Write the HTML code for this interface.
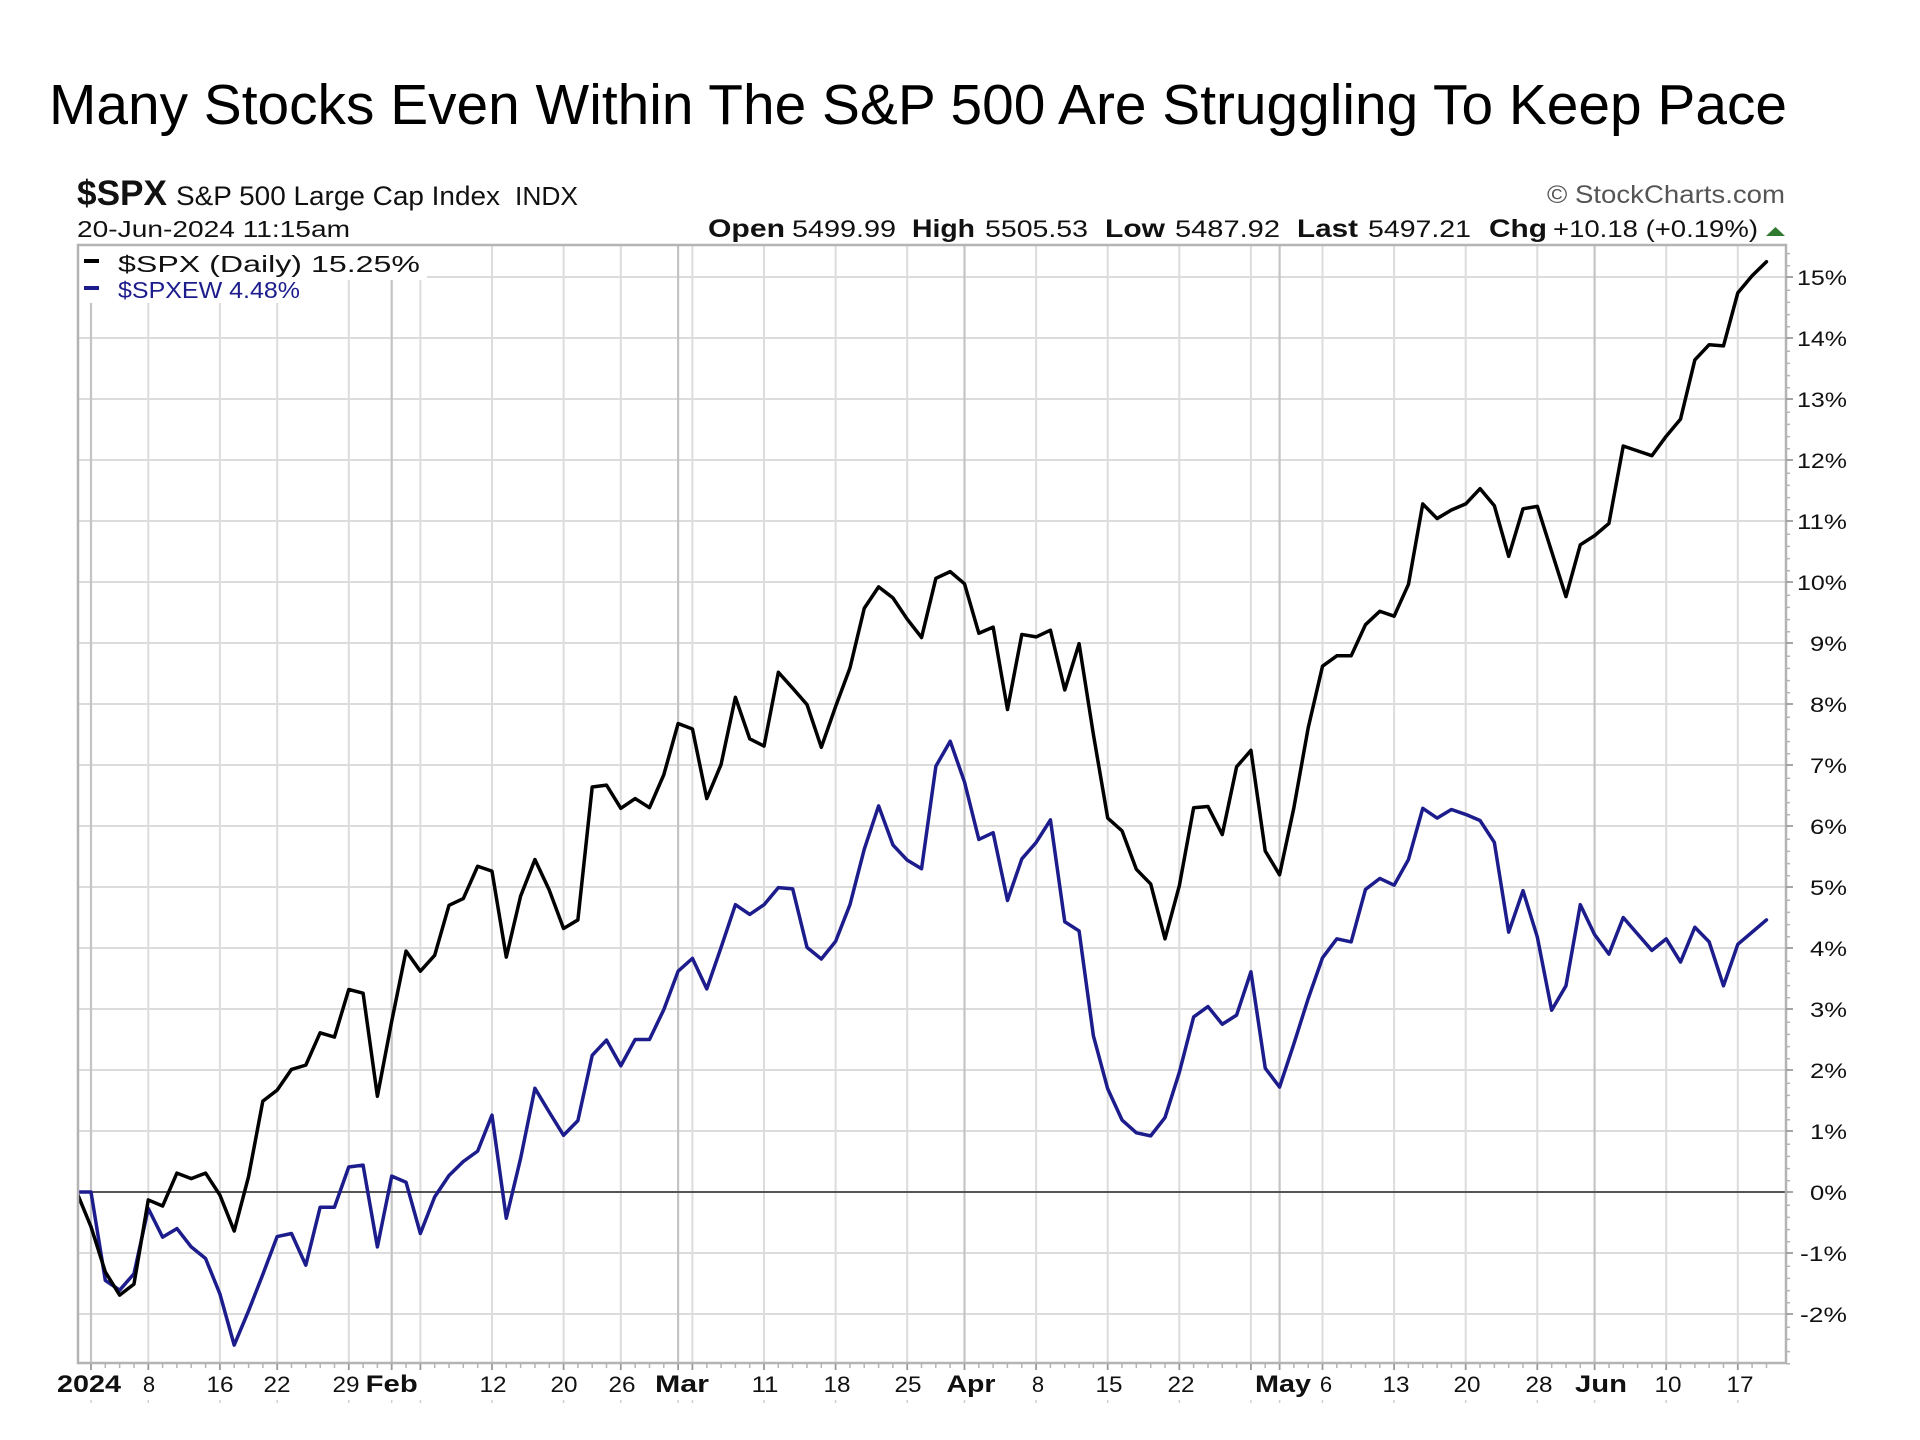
<!DOCTYPE html>
<html>
<head>
<meta charset="utf-8">
<style>
  html, body { margin:0; padding:0; background:#fff; }
  body { width:1920px; height:1440px; overflow:hidden; }
  svg { display:block; }
  text { font-family: "Liberation Sans", Arial, sans-serif; }
</style>
</head>
<body>
<svg width="1920" height="1440" viewBox="0 0 1920 1440" xmlns="http://www.w3.org/2000/svg">
  <rect x="0" y="0" width="1920" height="1440" fill="#fff"/>

  <!-- Title -->
  <text x="49" y="124" font-size="57" fill="#000" textLength="1738" lengthAdjust="spacingAndGlyphs">Many Stocks Even Within The S&amp;P 500 Are Struggling To Keep Pace</text>

  <!-- Header -->
  <text x="77" y="205" font-size="35" font-weight="bold" fill="#111" textLength="90" lengthAdjust="spacingAndGlyphs">$SPX</text>
  <text x="176" y="205" font-size="27" fill="#111" textLength="324" lengthAdjust="spacingAndGlyphs">S&amp;P 500 Large Cap Index</text>
  <text x="515" y="205" font-size="26" fill="#111" textLength="63" lengthAdjust="spacingAndGlyphs">INDX</text>
  <text x="1785" y="203" font-size="25" fill="#555" text-anchor="end" textLength="238" lengthAdjust="spacingAndGlyphs">© StockCharts.com</text>
  <text x="77" y="237" font-size="23" fill="#111" textLength="273" lengthAdjust="spacingAndGlyphs">20-Jun-2024 11:15am</text>

  <g fill="#111">
    <text x="708" y="237" font-size="25" font-weight="bold" textLength="77" lengthAdjust="spacingAndGlyphs">Open</text>
    <text x="792" y="237" font-size="24" textLength="104" lengthAdjust="spacingAndGlyphs">5499.99</text>
    <text x="912" y="237" font-size="25" font-weight="bold" textLength="63" lengthAdjust="spacingAndGlyphs">High</text>
    <text x="985" y="237" font-size="24" textLength="103" lengthAdjust="spacingAndGlyphs">5505.53</text>
    <text x="1105" y="237" font-size="25" font-weight="bold" textLength="60" lengthAdjust="spacingAndGlyphs">Low</text>
    <text x="1175" y="237" font-size="24" textLength="105" lengthAdjust="spacingAndGlyphs">5487.92</text>
    <text x="1297" y="237" font-size="25" font-weight="bold" textLength="61" lengthAdjust="spacingAndGlyphs">Last</text>
    <text x="1368" y="237" font-size="24" textLength="103" lengthAdjust="spacingAndGlyphs">5497.21</text>
    <text x="1489" y="237" font-size="25" font-weight="bold" textLength="58" lengthAdjust="spacingAndGlyphs">Chg</text>
    <text x="1553" y="237" font-size="24" textLength="205" lengthAdjust="spacingAndGlyphs">+10.18 (+0.19%)</text>
  </g>
  <polygon points="1766,236 1785,236 1775.5,227" fill="#2f7a2f"/>

  <defs>
    <clipPath id="plot">
      <rect x="79" y="246" width="1706" height="1116"/>
    </clipPath>
  </defs>

  <!-- Horizontal gridlines -->
  <g stroke="#dcdcdc" stroke-width="2">
    <line x1="78" x2="1786" y1="1314" y2="1314"/>
    <line x1="78" x2="1786" y1="1253" y2="1253"/>
    <line x1="78" x2="1786" y1="1131" y2="1131"/>
    <line x1="78" x2="1786" y1="1070" y2="1070"/>
    <line x1="78" x2="1786" y1="1009" y2="1009"/>
    <line x1="78" x2="1786" y1="948" y2="948"/>
    <line x1="78" x2="1786" y1="887" y2="887"/>
    <line x1="78" x2="1786" y1="826" y2="826"/>
    <line x1="78" x2="1786" y1="765" y2="765"/>
    <line x1="78" x2="1786" y1="704" y2="704"/>
    <line x1="78" x2="1786" y1="643" y2="643"/>
    <line x1="78" x2="1786" y1="582" y2="582"/>
    <line x1="78" x2="1786" y1="521" y2="521"/>
    <line x1="78" x2="1786" y1="460" y2="460"/>
    <line x1="78" x2="1786" y1="399" y2="399"/>
    <line x1="78" x2="1786" y1="338" y2="338"/>
    <line x1="78" x2="1786" y1="277" y2="277"/>
  </g>

  <!-- Vertical weekly gridlines -->
  <g stroke="#dcdcdc" stroke-width="2">
    <line x1="148.3" x2="148.3" y1="245" y2="1363"/>
    <line x1="219.9" x2="219.9" y1="245" y2="1363"/>
    <line x1="277.2" x2="277.2" y1="245" y2="1363"/>
    <line x1="348.8" x2="348.8" y1="245" y2="1363"/>
    <line x1="420.4" x2="420.4" y1="245" y2="1363"/>
    <line x1="492" x2="492" y1="245" y2="1363"/>
    <line x1="563.6" x2="563.6" y1="245" y2="1363"/>
    <line x1="620.8" x2="620.8" y1="245" y2="1363"/>
    <line x1="692.4" x2="692.4" y1="245" y2="1363"/>
    <line x1="764" x2="764" y1="245" y2="1363"/>
    <line x1="835.6" x2="835.6" y1="245" y2="1363"/>
    <line x1="907.2" x2="907.2" y1="245" y2="1363"/>
    <line x1="1036.1" x2="1036.1" y1="245" y2="1363"/>
    <line x1="1107.7" x2="1107.7" y1="245" y2="1363"/>
    <line x1="1179.3" x2="1179.3" y1="245" y2="1363"/>
    <line x1="1250.9" x2="1250.9" y1="245" y2="1363"/>
    <line x1="1322.5" x2="1322.5" y1="245" y2="1363"/>
    <line x1="1394.1" x2="1394.1" y1="245" y2="1363"/>
    <line x1="1465.7" x2="1465.7" y1="245" y2="1363"/>
    <line x1="1537.3" x2="1537.3" y1="245" y2="1363"/>
    <line x1="1666.2" x2="1666.2" y1="245" y2="1363"/>
    <line x1="1737.8" x2="1737.8" y1="245" y2="1363"/>
  </g>
  <!-- Month gridlines (darker) -->
  <g stroke="#c4c4c4" stroke-width="2.2">
    <line x1="91" x2="91" y1="245" y2="1363"/>
    <line x1="391.7" x2="391.7" y1="245" y2="1363"/>
    <line x1="678.1" x2="678.1" y1="245" y2="1363"/>
    <line x1="964.5" x2="964.5" y1="245" y2="1363"/>
    <line x1="1279.6" x2="1279.6" y1="245" y2="1363"/>
    <line x1="1594.6" x2="1594.6" y1="245" y2="1363"/>
  </g>

  <!-- Zero line -->
  <line x1="78" x2="1786" y1="1192" y2="1192" stroke="#555" stroke-width="2"/>

  <!-- Legend backgrounds -->
  <rect x="79" y="246" width="348" height="34" fill="#fff"/>
  <rect x="79" y="279" width="226" height="24" fill="#fff"/>

  <!-- Legend -->
  <line x1="84" x2="99" y1="261" y2="261" stroke="#000" stroke-width="4"/>
  <text x="118" y="272" font-size="23" fill="#111" textLength="302" lengthAdjust="spacingAndGlyphs">$SPX (Daily) 15.25%</text>
  <line x1="84" x2="99" y1="288" y2="288" stroke="#1c1c8c" stroke-width="4"/>
  <text x="118" y="298" font-size="23" fill="#1c1c8c" textLength="182" lengthAdjust="spacingAndGlyphs">$SPXEW 4.48%</text>

  <!-- Data series -->
  <g clip-path="url(#plot)">
    <g transform="translate(91,1192) scale(14.32,-61)">
      <polyline fill="none" stroke="#1c1c8c" stroke-width="3.5" vector-effect="non-scaling-stroke" stroke-linejoin="round" stroke-linecap="round"
        points="-1,0 0,0 1,-1.45 2,-1.61 3,-1.34 4,-0.27 5,-0.74 6,-0.60 7,-0.90 8,-1.09 9,-1.67 10,-2.51 11,-1.95 12,-1.35 13,-0.73 14,-0.68 15,-1.20 16,-0.25 17,-0.25 18,0.41 19,0.44 20,-0.90 21,0.26 22,0.16 23,-0.68 24,-0.08 25,0.27 26,0.50 27,0.67 28,1.26 29,-0.43 30,0.55 31,1.70 32,1.31 33,0.93 34,1.17 35,2.24 36,2.49 37,2.07 38,2.50 39,2.50 40,2.99 41,3.62 42,3.83 43,3.33 44,4.01 45,4.71 46,4.55 47,4.71 48,4.99 49,4.97 50,4.01 51,3.82 52,4.11 53,4.71 54,5.62 55,6.33 56,5.69 57,5.44 58,5.30 59,6.98 60,7.39 61,6.72 62,5.78 63,5.89 64,4.78 65,5.46 66,5.73 67,6.10 68,4.43 69,4.28 70,2.56 71,1.69 72,1.18 73,0.97 74,0.92 75,1.22 76,1.96 77,2.87 78,3.04 79,2.75 80,2.90 81,3.61 82,2.03 83,1.72 84,2.43 85,3.17 86,3.84 87,4.15 88,4.10 89,4.96 90,5.14 91,5.03 92,5.45 93,6.29 94,6.13 95,6.27 96,6.19 97,6.09 98,5.73 99,4.26 100,4.94 101,4.18 102,2.98 103,3.38 104,4.71 105,4.22 106,3.90 107,4.50 108,4.23 109,3.96 110,4.15 111,3.77 112,4.34 113,4.10 114,3.38 115,4.06 116,4.26 117,4.46"/>
      <polyline fill="none" stroke="#000" stroke-width="3.5" vector-effect="non-scaling-stroke" stroke-linejoin="round" stroke-linecap="round"
        points="-1,0 0,-0.57 1,-1.31 2,-1.69 3,-1.51 4,-0.13 5,-0.23 6,0.31 7,0.22 8,0.31 9,-0.05 10,-0.64 11,0.25 12,1.49 13,1.67 14,2.01 15,2.08 16,2.61 17,2.54 18,3.32 19,3.26 20,1.57 21,2.80 22,3.95 23,3.62 24,3.88 25,4.70 26,4.81 27,5.34 28,5.26 29,3.85 30,4.85 31,5.45 32,4.95 33,4.32 34,4.46 35,6.64 36,6.67 37,6.29 38,6.45 39,6.30 40,6.84 41,7.68 42,7.59 43,6.45 44,7.01 45,8.11 46,7.43 47,7.31 48,8.52 49,8.26 50,7.99 51,7.29 52,7.96 53,8.59 54,9.57 55,9.92 56,9.74 57,9.39 58,9.09 59,10.06 60,10.17 61,9.97 62,9.16 63,9.26 64,7.91 65,9.14 66,9.10 67,9.21 68,8.23 69,8.99 70,7.50 71,6.13 72,5.92 73,5.29 74,5.05 75,4.15 76,5.02 77,6.30 78,6.32 79,5.86 80,6.97 81,7.24 82,5.59 83,5.20 84,6.30 85,7.61 86,8.62 87,8.79 88,8.79 89,9.30 90,9.52 91,9.44 92,9.96 93,11.28 94,11.04 95,11.18 96,11.28 97,11.53 98,11.25 99,10.42 100,11.20 101,11.24 102,10.50 103,9.76 104,10.61 105,10.76 106,10.96 107,12.23 108,12.15 109,12.07 110,12.39 111,12.67 112,13.64 113,13.89 114,13.87 115,14.74 116,15.02 117,15.25"/>
    </g>
  </g>

  <!-- Plot border -->
  <rect x="78" y="245" width="1708" height="1118" fill="none" stroke="#b4b4b4" stroke-width="2.5"/>

  <!-- Right axis minor ticks (every 0.2%) -->
  <g stroke="#b4b4b4" stroke-width="1.5">
    <path d="M1786,1363.8h4 M1786,1351.6h4 M1786,1339.4h4 M1786,1327.2h4 M1786,1302.8h4 M1786,1290.6h4 M1786,1278.4h4 M1786,1266.2h4 M1786,1241.8h4 M1786,1229.6h4 M1786,1217.4h4 M1786,1205.2h4 M1786,1180.8h4 M1786,1168.6h4 M1786,1156.4h4 M1786,1144.2h4 M1786,1119.8h4 M1786,1107.6h4 M1786,1095.4h4 M1786,1083.2h4 M1786,1058.8h4 M1786,1046.6h4 M1786,1034.4h4 M1786,1022.2h4 M1786,997.8h4 M1786,985.6h4 M1786,973.4h4 M1786,961.2h4 M1786,936.8h4 M1786,924.6h4 M1786,912.4h4 M1786,900.2h4 M1786,875.8h4 M1786,863.6h4 M1786,851.4h4 M1786,839.2h4 M1786,814.8h4 M1786,802.6h4 M1786,790.4h4 M1786,778.2h4 M1786,753.8h4 M1786,741.6h4 M1786,729.4h4 M1786,717.2h4 M1786,692.8h4 M1786,680.6h4 M1786,668.4h4 M1786,656.2h4 M1786,631.8h4 M1786,619.6h4 M1786,607.4h4 M1786,595.2h4 M1786,570.8h4 M1786,558.6h4 M1786,546.4h4 M1786,534.2h4 M1786,509.8h4 M1786,497.6h4 M1786,485.4h4 M1786,473.2h4 M1786,448.8h4 M1786,436.6h4 M1786,424.4h4 M1786,412.2h4 M1786,387.8h4 M1786,375.6h4 M1786,363.4h4 M1786,351.2h4 M1786,326.8h4 M1786,314.6h4 M1786,302.4h4 M1786,290.2h4 M1786,265.8h4 M1786,253.6h4"/>
  </g>
  <g stroke="#9a9a9a" stroke-width="1.8">
    <path d="M1786,1314h7 M1786,1253h7 M1786,1192h7 M1786,1131h7 M1786,1070h7 M1786,1009h7 M1786,948h7 M1786,887h7 M1786,826h7 M1786,765h7 M1786,704h7 M1786,643h7 M1786,582h7 M1786,521h7 M1786,460h7 M1786,399h7 M1786,338h7 M1786,277h7"/>
  </g>

  <!-- Right axis labels -->
  <g font-size="21" fill="#111" text-anchor="end">
    <text x="1847" y="285" textLength="50" lengthAdjust="spacingAndGlyphs">15%</text>
    <text x="1847" y="346" textLength="50" lengthAdjust="spacingAndGlyphs">14%</text>
    <text x="1847" y="407" textLength="50" lengthAdjust="spacingAndGlyphs">13%</text>
    <text x="1847" y="468" textLength="50" lengthAdjust="spacingAndGlyphs">12%</text>
    <text x="1847" y="529" textLength="50" lengthAdjust="spacingAndGlyphs">11%</text>
    <text x="1847" y="590" textLength="50" lengthAdjust="spacingAndGlyphs">10%</text>
    <text x="1847" y="651" textLength="37" lengthAdjust="spacingAndGlyphs">9%</text>
    <text x="1847" y="712" textLength="37" lengthAdjust="spacingAndGlyphs">8%</text>
    <text x="1847" y="773" textLength="37" lengthAdjust="spacingAndGlyphs">7%</text>
    <text x="1847" y="834" textLength="37" lengthAdjust="spacingAndGlyphs">6%</text>
    <text x="1847" y="895" textLength="37" lengthAdjust="spacingAndGlyphs">5%</text>
    <text x="1847" y="956" textLength="37" lengthAdjust="spacingAndGlyphs">4%</text>
    <text x="1847" y="1017" textLength="37" lengthAdjust="spacingAndGlyphs">3%</text>
    <text x="1847" y="1078" textLength="37" lengthAdjust="spacingAndGlyphs">2%</text>
    <text x="1847" y="1139" textLength="37" lengthAdjust="spacingAndGlyphs">1%</text>
    <text x="1847" y="1200" textLength="37" lengthAdjust="spacingAndGlyphs">0%</text>
    <text x="1847" y="1261" textLength="47" lengthAdjust="spacingAndGlyphs">-1%</text>
    <text x="1847" y="1322" textLength="47" lengthAdjust="spacingAndGlyphs">-2%</text>
  </g>

  <!-- Bottom axis day ticks -->
  <g stroke="#b4b4b4" stroke-width="1.5">
    <path d="M105.3,1364v4 M119.6,1364v4 M134,1364v4 M162.6,1364v4 M176.9,1364v4 M191.2,1364v4 M205.6,1364v4 M234.2,1364v4 M248.6,1364v4 M262.9,1364v4 M291.5,1364v4 M305.8,1364v4 M320.2,1364v4 M334.5,1364v4 M363.1,1364v4 M377.4,1364v4 M406,1364v4 M434.7,1364v4 M449,1364v4 M463.3,1364v4 M477.7,1364v4 M506.3,1364v4 M520.6,1364v4 M535,1364v4 M549.3,1364v4 M577.9,1364v4 M592.2,1364v4 M606.5,1364v4 M635.2,1364v4 M649.5,1364v4 M663.8,1364v4 M706.8,1364v4 M721.1,1364v4 M735.4,1364v4 M749.7,1364v4 M778.3,1364v4 M792.6,1364v4 M807,1364v4 M821.3,1364v4 M849.9,1364v4 M864.2,1364v4 M878.6,1364v4 M892.9,1364v4 M921.5,1364v4 M935.8,1364v4 M950.1,1364v4 M978.8,1364v4 M993.1,1364v4 M1007.4,1364v4 M1021.8,1364v4 M1050.4,1364v4 M1064.7,1364v4 M1079.1,1364v4 M1093.4,1364v4 M1122,1364v4 M1136.3,1364v4 M1150.7,1364v4 M1165,1364v4 M1193.6,1364v4 M1208,1364v4 M1222.3,1364v4 M1236.6,1364v4 M1265.2,1364v4 M1293.9,1364v4 M1308.2,1364v4 M1336.8,1364v4 M1351.2,1364v4 M1365.5,1364v4 M1379.8,1364v4 M1408.4,1364v4 M1422.8,1364v4 M1437.1,1364v4 M1451.4,1364v4 M1480,1364v4 M1494.4,1364v4 M1508.7,1364v4 M1523,1364v4 M1551.7,1364v4 M1566,1364v4 M1580.3,1364v4 M1609,1364v4 M1623.3,1364v4 M1637.6,1364v4 M1652,1364v4 M1680.5,1364v4 M1694.9,1364v4 M1709.2,1364v4 M1723.5,1364v4 M1752.1,1364v4 M1766.5,1364v4"/>
  </g>
  <g stroke="#9a9a9a" stroke-width="1.8">
    <path d="M91,1364v6 M148.3,1364v6 M219.9,1364v6 M277.2,1364v6 M348.8,1364v6 M391.7,1364v6 M420.4,1364v6 M492,1364v6 M563.6,1364v6 M620.8,1364v6 M678.1,1364v6 M692.4,1364v6 M764,1364v6 M835.6,1364v6 M907.2,1364v6 M964.5,1364v6 M1036.1,1364v6 M1107.7,1364v6 M1179.3,1364v6 M1250.9,1364v6 M1279.6,1364v6 M1322.5,1364v6 M1394.1,1364v6 M1465.7,1364v6 M1537.3,1364v6 M1594.6,1364v6 M1666.2,1364v6 M1737.8,1364v6"/>
  </g>
  <!-- faint marks below labels -->
  <g stroke="#d0d0d0" stroke-width="1.5">
    <path d="M91,1400v3 M148.3,1400v3 M219.9,1400v3 M277.2,1400v3 M348.8,1400v3 M391.7,1400v3 M420.4,1400v3 M492,1400v3 M563.6,1400v3 M620.8,1400v3 M678.1,1400v3 M692.4,1400v3 M764,1400v3 M835.6,1400v3 M907.2,1400v3 M964.5,1400v3 M1036.1,1400v3 M1107.7,1400v3 M1179.3,1400v3 M1250.9,1400v3 M1279.6,1400v3 M1322.5,1400v3 M1394.1,1400v3 M1465.7,1400v3 M1537.3,1400v3 M1594.6,1400v3 M1666.2,1400v3 M1737.8,1400v3"/>
  </g>

  <!-- Bottom axis labels -->
  <g fill="#111">
    <text x="57" y="1392" font-size="24" font-weight="bold" textLength="64" lengthAdjust="spacingAndGlyphs">2024</text>
    <text x="391.7" y="1392" font-size="24" font-weight="bold" text-anchor="middle" textLength="52" lengthAdjust="spacingAndGlyphs">Feb</text>
    <text x="682" y="1392" font-size="24" font-weight="bold" text-anchor="middle" textLength="54" lengthAdjust="spacingAndGlyphs">Mar</text>
    <text x="971" y="1392" font-size="24" font-weight="bold" text-anchor="middle" textLength="49" lengthAdjust="spacingAndGlyphs">Apr</text>
    <text x="1283" y="1392" font-size="24" font-weight="bold" text-anchor="middle" textLength="56" lengthAdjust="spacingAndGlyphs">May</text>
    <text x="1601" y="1392" font-size="24" font-weight="bold" text-anchor="middle" textLength="52" lengthAdjust="spacingAndGlyphs">Jun</text>
  </g>
  <g fill="#111" font-size="22" text-anchor="middle">
    <text x="149" y="1392">8</text>
    <text x="220" y="1392" textLength="27" lengthAdjust="spacingAndGlyphs">16</text>
    <text x="277" y="1392" textLength="27" lengthAdjust="spacingAndGlyphs">22</text>
    <text x="346" y="1392" textLength="27" lengthAdjust="spacingAndGlyphs">29</text>
    <text x="493" y="1392" textLength="27" lengthAdjust="spacingAndGlyphs">12</text>
    <text x="564" y="1392" textLength="27" lengthAdjust="spacingAndGlyphs">20</text>
    <text x="622" y="1392" textLength="27" lengthAdjust="spacingAndGlyphs">26</text>
    <text x="765" y="1392" textLength="27" lengthAdjust="spacingAndGlyphs">11</text>
    <text x="837" y="1392" textLength="27" lengthAdjust="spacingAndGlyphs">18</text>
    <text x="908" y="1392" textLength="27" lengthAdjust="spacingAndGlyphs">25</text>
    <text x="1038" y="1392">8</text>
    <text x="1109" y="1392" textLength="27" lengthAdjust="spacingAndGlyphs">15</text>
    <text x="1181" y="1392" textLength="27" lengthAdjust="spacingAndGlyphs">22</text>
    <text x="1326" y="1392">6</text>
    <text x="1396" y="1392" textLength="27" lengthAdjust="spacingAndGlyphs">13</text>
    <text x="1467" y="1392" textLength="27" lengthAdjust="spacingAndGlyphs">20</text>
    <text x="1539" y="1392" textLength="27" lengthAdjust="spacingAndGlyphs">28</text>
    <text x="1668" y="1392" textLength="27" lengthAdjust="spacingAndGlyphs">10</text>
    <text x="1740" y="1392" textLength="27" lengthAdjust="spacingAndGlyphs">17</text>
  </g>
</svg>
</body>
</html>
